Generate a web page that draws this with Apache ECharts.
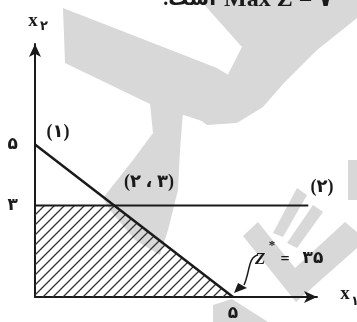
<!DOCTYPE html>
<html lang="fa">
  <head>
    <meta charset="UTF-8" />
    <title>LP feasible region</title>
    <script src="https://cdn.jsdelivr.net/npm/echarts@6.0.0/dist/echarts.min.js"></script>
    <style>
      html, body { margin: 0; padding: 0; background: #fff; }
    </style>
  </head>
  <body>
    <div id="main" style="width: 357px; height: 322px"></div>
    <script type="text/javascript">
      // constraint (1): x1 + x2 = 5
      const line1X = [0, 5];
      const line1Y = [5, 0];
      // constraint (2): x2 = 3
      const line2X = [0, 6.9];
      const line2Y = [3, 3];
      // upper edge of the feasible region (filled down to x2 = 0)
      const regionX = [0, 2, 5];
      const regionY = [3, 3, 0];
      // tick labels
      const xTickValues = [5];
      const yTickValues = [3, 5];

      const fa = (v) => String(v).replace(/[0-9]/g, (d) => "۰۱۲۳۴۵۶۷۸۹"[d]);
      const font = "'Liberation Serif', 'DejaVu Serif', 'DejaVu Sans', serif";
      const ink = "#1a1a1a";

      // diagonal hatch pattern
      const hatch = document.createElement("canvas");
      hatch.width = 10;
      hatch.height = 10;
      const hc = hatch.getContext("2d");
      hc.strokeStyle = "#333";
      hc.lineWidth = 1.3;
      hc.beginPath();
      hc.moveTo(0, 10); hc.lineTo(10, 0);
      hc.moveTo(-2, 2); hc.lineTo(2, -2);
      hc.moveTo(8, 12); hc.lineTo(12, 8);
      hc.stroke();

      const zip = (xs, ys) => xs.map((x, i) => [x, ys[i]]);

      // faint watermark behind the figure
      const watermark = [
        [[63, 8], [217, 68], [250, 88], [205, 122], [150, 104], [65, 63]],
        [[200, 0], [357, 0], [357, 18], [317, 50], [283, 84], [263, 107], [237, 123], [207, 125], [190, 112], [222, 86], [242, 47]],
        [[150, 103], [183, 112], [180, 150], [178, 190], [168, 230], [160, 255], [135, 240], [110, 210], [103, 198], [133, 160], [153, 133]],
        [[297, 188], [307, 195], [283, 237], [273, 233]],
        [[313, 205], [323, 212], [297, 248], [287, 243]],
        [[243, 236], [258, 222], [295, 268], [345, 222], [357, 232], [357, 248], [296, 302]],
        [[213, 305], [232, 299], [268, 322], [213, 322]],
        [[348, 160], [357, 160], [357, 200], [348, 200]]
      ];

      const txt = (x, y, text, size, extra) =>
        Object.assign({
          type: "text", x: x, y: y, z: 100,
          style: Object.assign({
            text: text, font: "bold " + size + "px " + font, fill: ink,
            textAlign: "center", textVerticalAlign: "middle"
          }, extra || {})
        });

      let myChart = echarts.init(document.getElementById("main"));

      let options = {
        animation: false,
        backgroundColor: "#fff",
        grid: { left: 35, right: 40, top: 44, bottom: 24 },
        xAxis: {
          type: "value", min: 0, max: 7.12,
          splitLine: { show: false },
          axisTick: { show: false },
          axisLine: {
            onZero: false,
            symbol: ["none", "arrow"], symbolSize: [9, 13],
            lineStyle: { color: ink, width: 2 }
          },
          axisLabel: {
            customValues: xTickValues, formatter: (v) => fa(v),
            margin: 8, color: ink, fontSize: 17, fontWeight: "bold", fontFamily: font
          }
        },
        yAxis: {
          type: "value", min: 0, max: 8.3,
          splitLine: { show: false },
          axisTick: { show: false },
          axisLine: {
            onZero: false,
            symbol: ["none", "arrow"], symbolSize: [9, 13],
            lineStyle: { color: ink, width: 2 }
          },
          axisLabel: {
            customValues: yTickValues, formatter: (v) => fa(v),
            margin: 17, color: ink, fontSize: 17, fontWeight: "bold", fontFamily: font
          }
        },
        graphic: [
          {
            type: "group", z: -10,
            children: watermark.map((pts) => ({
              type: "polygon", z: -10, silent: true,
              shape: { points: pts },
              style: { fill: "#d8d8d8" }
            }))
          },
          // top text, cut by the frame
          txt(216, 0, ".است", 20, { textAlign: "right" }),
          txt(224, 0, "Max Z = ۷", 24, { textAlign: "left" }),
          // axis names
          txt(33, 21, "x", 19),
          txt(44, 27, "۲", 13),
          txt(345, 294, "x", 19),
          txt(355, 302, "۱", 13),
          // constraint labels
          txt(58, 132, "(۱)", 18),
          txt(149, 182, "(۲ ، ۳)", 18),
          txt(322, 187, "(۲)", 18),
          // optimum annotation
          { type: "text", x: 255, y: 260, z: 100,
            style: { text: "Z", font: "italic bold 17px " + font, fill: ink, textVerticalAlign: "middle" } },
          txt(272, 246, "*", 13),
          txt(285, 260, "=", 16),
          txt(313, 259, "۳۵", 17),
          { type: "bezierCurve", z: 100,
            shape: { x1: 258, y1: 255, cpx1: 248, cpy1: 257, cpx2: 250, cpy2: 272, x2: 244, y2: 285 },
            style: { stroke: ink, lineWidth: 1.5, fill: null } },
          { type: "polygon", z: 100,
            shape: { points: [[234, 293], [238, 283], [247, 288]] },
            style: { fill: ink } }
        ],
        series: [
          {
            name: "region", type: "line", data: zip(regionX, regionY),
            showSymbol: false, z: 1,
            lineStyle: { width: 0 },
            areaStyle: { color: { image: hatch, repeat: "repeat" }, opacity: 1 }
          },
          {
            name: "(1)", type: "line", data: zip(line1X, line1Y),
            showSymbol: false, z: 3,
            lineStyle: { color: ink, width: 2.5 }
          },
          {
            name: "(2)", type: "line", data: zip(line2X, line2Y),
            showSymbol: false, z: 3,
            lineStyle: { color: ink, width: 2 }
          }
        ]
      };

      myChart.setOption(options);
    </script>
  </body>
</html>
